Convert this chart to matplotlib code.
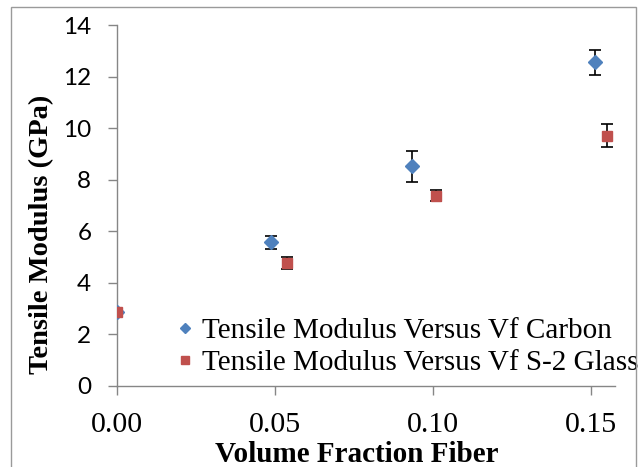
import matplotlib.pyplot as plt
from matplotlib.patches import Rectangle

# data
carbon_vf = [0.0, 0.0487, 0.0934, 0.1513]
carbon_mod = [2.87, 5.58, 8.52, 12.55]
carbon_err = [0.08, 0.25, 0.60, 0.48]

glass_vf = [0.0, 0.0539, 0.1010, 0.1552]
glass_mod = [2.87, 4.77, 7.38, 9.71]
glass_err = [0.08, 0.25, 0.22, 0.45]

x_ticks = [0.00, 0.05, 0.10, 0.15]
y_ticks = [0, 2, 4, 6, 8, 10, 12, 14]

BLUE = "#4F81BD"
RED = "#C0504D"
GRAY = "#868686"
W, H = 642, 467

fig = plt.figure(figsize=(6.42, 4.67), dpi=100)
ax = fig.add_axes([117 / W, 1 - 386 / H, (615 - 117) / W, (386 - 25) / H])

# outer chart border
fig.patches.append(Rectangle((11 / W, -0.01), (636 - 11) / W, 1 - 7 / H + 0.01,
                             transform=fig.transFigure, fill=False,
                             edgecolor="#9a9a9a", linewidth=1.0))

ax.errorbar(carbon_vf, carbon_mod, yerr=carbon_err, fmt="none", ecolor="black",
            elinewidth=1.2, capsize=4.5, capthick=1.2, zorder=2)
ax.errorbar(glass_vf, glass_mod, yerr=glass_err, fmt="none", ecolor="black",
            elinewidth=1.2, capsize=4.5, capthick=1.2, zorder=2)
ax.plot(carbon_vf, carbon_mod, linestyle="none", marker="D", markersize=6.8,
        color=BLUE, label="Tensile Modulus Versus Vf Carbon", zorder=3)
ax.plot(glass_vf, glass_mod, linestyle="none", marker="s", markersize=6.8,
        color=RED, label="Tensile Modulus Versus Vf S-2 Glass", zorder=4)

ax.set_xlim(0, 0.1577)
ax.set_ylim(0, 14)
ax.set_xticks(x_ticks)
ax.set_xticklabels([f"{v:.2f}" for v in x_ticks], family="Liberation Serif", fontsize=21.5)
ax.set_yticks(y_ticks)
ax.set_yticklabels([str(v) for v in y_ticks], family="Lato", fontsize=17.5)

for side in ["top", "right"]:
    ax.spines[side].set_visible(False)
for side in ["left", "bottom"]:
    ax.spines[side].set_color(GRAY)
    ax.spines[side].set_linewidth(1.0)
ax.tick_params(axis="both", direction="out", length=6.5, width=1.0, color=GRAY)
ax.tick_params(axis="y", pad=12)
ax.tick_params(axis="x", pad=12)

ax.set_xlabel("Volume Fraction Fiber", family="Liberation Serif", fontweight="bold",
              fontsize=21)
ax.xaxis.set_label_coords(0.481, -0.151)
ax.set_ylabel("Tensile Modulus (GPa)", family="Liberation Serif", fontweight="bold",
              fontsize=20.5)
ax.yaxis.set_label_coords(-0.1265, 0.421)

leg = ax.legend(loc="lower left", bbox_to_anchor=(176 / W, 1 - 376 / H),
                bbox_transform=fig.transFigure, frameon=False,
                prop={"family": "Liberation Serif", "size": 21},
                markerscale=0.75, handlelength=0.6, handletextpad=0.3,
                labelspacing=0.2, borderpad=0, borderaxespad=0)

fig.savefig("out.png", dpi=100)
